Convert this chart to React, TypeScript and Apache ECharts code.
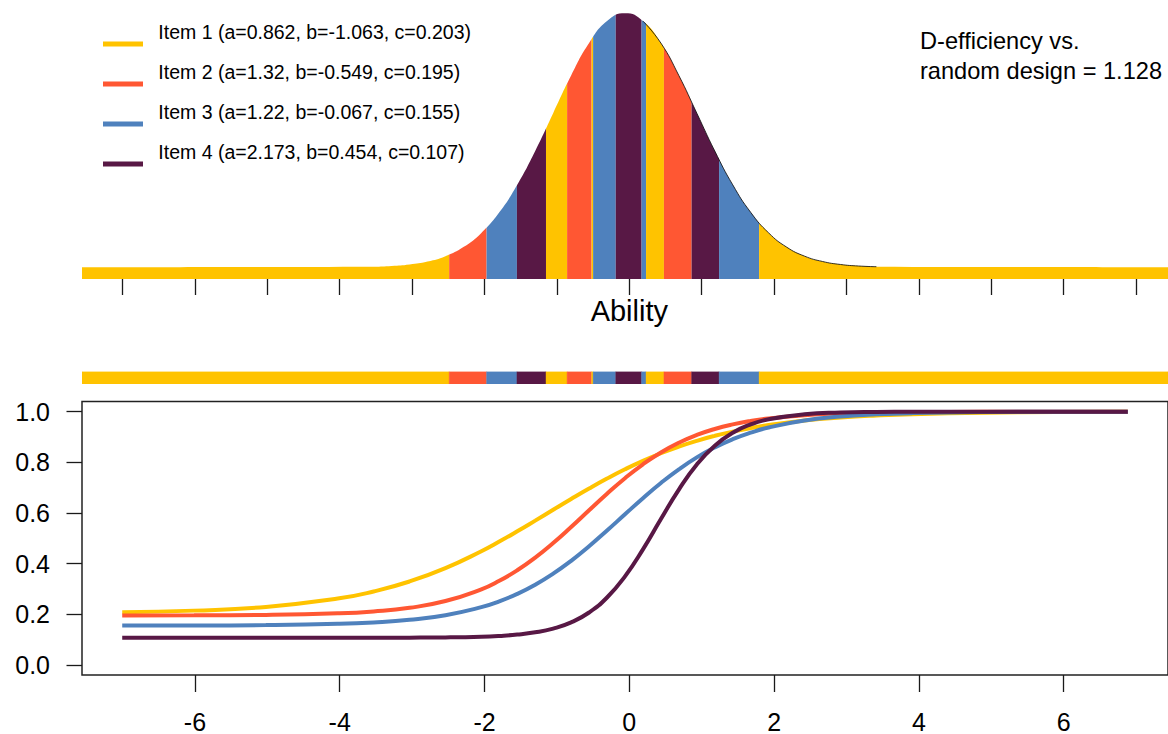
import React, { useEffect, useRef } from "react";
import * as echarts from "echarts";

// ---------- data ----------
const ITEM_NAMES = ["Item 1", "Item 2", "Item 3", "Item 4"];
const ITEM_A = ["0.862", "1.32", "1.22", "2.173"];
const ITEM_B = ["-1.063", "-0.549", "-0.067", "0.454"];
const ITEM_C = ["0.203", "0.195", "0.155", "0.107"];
const ITEM_COLORS = ["#FFC300", "#FF5733", "#4F81BD", "#581845"];

const EFFICIENCY_TEXT = ["D-efficiency vs.", "random design = 1.128"];
const X_TITLE = "Ability";

// ability grid for the item characteristic curves
const THETA = [-7, -6, -5, -4, -3.5, -3, -2.5, -2, -1.75, -1.5, -1.25, -1, -0.75, -0.5, -0.25, 0, 0.25, 0.5, 0.75, 1, 1.25, 1.5, 1.75, 2, 2.5, 3, 3.5, 4, 5, 6, 7];
const ICC_1 = [0.2077, 0.2142, 0.2289, 0.2617, 0.2899, 0.3293, 0.3821, 0.4488, 0.4868, 0.5273, 0.5695, 0.6123, 0.655, 0.6964, 0.7357, 0.7723, 0.8057, 0.8356, 0.8619, 0.8848, 0.9044, 0.9212, 0.9352, 0.9469, 0.9647, 0.9767, 0.9847, 0.99, 0.9957, 0.9982, 0.9992];
const ICC_2 = [0.1952, 0.1956, 0.1973, 0.2034, 0.2111, 0.2255, 0.252, 0.2984, 0.3319, 0.3735, 0.4235, 0.4811, 0.5444, 0.6105, 0.6759, 0.7372, 0.7921, 0.8388, 0.8772, 0.9078, 0.9315, 0.9495, 0.9631, 0.9731, 0.9859, 0.9926, 0.9962, 0.998, 0.9995, 0.9999, 1.0];
const ICC_3 = [0.1552, 0.1556, 0.1571, 0.1619, 0.1676, 0.178, 0.1963, 0.228, 0.2511, 0.2803, 0.3165, 0.3601, 0.411, 0.4684, 0.5306, 0.5947, 0.6582, 0.7181, 0.7722, 0.8193, 0.8588, 0.8912, 0.9169, 0.9372, 0.9647, 0.9804, 0.9892, 0.9941, 0.9983, 0.9995, 0.9998];
const ICC_4 = [0.107, 0.107, 0.107, 0.1071, 0.1072, 0.1075, 0.1085, 0.1113, 0.1144, 0.1196, 0.1285, 0.1434, 0.1678, 0.2068, 0.266, 0.3495, 0.4561, 0.5758, 0.6924, 0.7911, 0.8655, 0.9166, 0.9496, 0.97, 0.9897, 0.9965, 0.9988, 0.9996, 1.0, 1.0, 1.0];
const ICC = [ICC_1, ICC_2, ICC_3, ICC_4];

// ability density (top panel)
const DENS_THETA = [-7.56, -3.5, -3.25, -3, -2.75, -2.5, -2.25, -2, -1.75, -1.5, -1.25, -1, -0.75, -0.5, -0.25, 0, 0.25, 0.5, 0.75, 1, 1.25, 1.5, 1.75, 2, 2.25, 2.5, 2.75, 3, 3.25, 3.5, 7.56];
const DENS = [0, 0.0009, 0.002, 0.0044, 0.0091, 0.0175, 0.0317, 0.054, 0.0863, 0.1295, 0.1826, 0.242, 0.3011, 0.3521, 0.3867, 0.3989, 0.3867, 0.3521, 0.3011, 0.242, 0.1826, 0.1295, 0.0863, 0.054, 0.0317, 0.0175, 0.0091, 0.0044, 0.002, 0.0009, 0];

// which item is assigned along the ability axis (segment start, item index)
const BAND_START = [-7.56, -2.448, -1.927, -1.505, -1.1, -0.806, -0.465, -0.444, -0.129, 0.231, 0.293, 0.542, 0.927, 1.31, 1.867];
const BAND_ITEM = [0, 1, 2, 3, 0, 1, 0, 2, 3, 2, 0, 1, 3, 2, 0];

const X_TICKS_TOP = { min: -7, max: 7, step: 1 };
const X_TICKS_BOTTOM = { min: -6, max: 6, step: 2 };
const Y_TICKS = { min: 0, max: 1, step: 0.2 };

// ---------- layout ----------
const FONT = "'Liberation Sans', Arial, sans-serif";
const X_MIN = -7.56;
const X_MAX = 7.56;
const X_ZERO = 629.3;
const GL = 82;
const UNIT = (X_ZERO - GL) / -X_MIN;
const GW = (X_MAX - X_MIN) * UNIT;
const DENS_MIN = -0.0184;
const DENS_MAX = 0.4;
const BAND_CAP = 0.3995;

function buildOption() {
  // each band: [start, end, item, upper bound of the density inside the band]
  const bandData = BAND_START.map((s, i) => {
    const e = i === BAND_START.length - 1 ? X_MAX : BAND_START[i + 1];
    let top = 0;
    DENS_THETA.forEach((t, j) => {
      if (t >= s - 0.26 && t <= e + 0.26) top = Math.max(top, DENS[j]);
    });
    return [s, e, BAND_ITEM[i], Math.min(top + 0.004, BAND_CAP)];
  });

  const bandRenderer = (yLo: number, yHi: number | null, strokeW: number) => (params: any, api: any) => {
    const s = api.value(0);
    const e = api.value(1);
    const k = api.value(2);
    const top = yHi === null ? api.value(3) : yHi;
    const p0 = api.coord([s, top]);
    const p1 = api.coord([e, yLo]);
    const color = ITEM_COLORS[k];
    return {
      type: "rect",
      shape: { x: p0[0], y: p0[1], width: p1[0] - p0[0], height: p1[1] - p0[1] },
      style: strokeW > 0 ? { fill: color, stroke: color, lineWidth: strokeW } : { fill: color },
    };
  };

  const densData = DENS_THETA.map((t, i) => [t, DENS[i]]);
  const outlineData = densData.filter((d) => d[0] >= 0.25 && d[0] <= 3.5);

  const tickStyle = { color: "#1a1a1a", width: 1.3 };

  const grids = [
    { left: GL, width: GW, top: 12.6, height: 266.4 },
    { left: X_ZERO + X_TICKS_TOP.min * UNIT, width: (X_TICKS_TOP.max - X_TICKS_TOP.min) * UNIT, top: 270, height: 9 },
    { left: GL, width: GW, top: 371.5, height: 12.5 },
    { left: GL, width: GW, top: 401.5, height: 273.5, show: true, borderColor: "#222", borderWidth: 1.5, backgroundColor: "transparent" },
    { left: X_ZERO + X_TICKS_BOTTOM.min * UNIT, width: (X_TICKS_BOTTOM.max - X_TICKS_BOTTOM.min) * UNIT, top: 660, height: 15 },
    { left: GL, width: 10, top: 411.6, height: 253.3 },
  ];

  const hiddenX = (gridIndex: number, min = X_MIN, max = X_MAX) => ({ type: "value", gridIndex, min, max, show: false, splitLine: { show: false } });
  const hiddenY = (gridIndex: number, min = 0, max = 1) => ({ type: "value", gridIndex, min, max, show: false, splitLine: { show: false } });

  const xAxis = [
    hiddenX(0),
    {
      type: "value", gridIndex: 1, min: X_TICKS_TOP.min, max: X_TICKS_TOP.max, interval: X_TICKS_TOP.step,
      axisLine: { show: false }, axisTick: { show: true, length: 16, lineStyle: tickStyle },
      axisLabel: { show: false }, splitLine: { show: false },
    },
    hiddenX(2),
    hiddenX(3),
    {
      type: "value", gridIndex: 4, min: X_TICKS_BOTTOM.min, max: X_TICKS_BOTTOM.max, interval: X_TICKS_BOTTOM.step,
      axisLine: { show: false }, axisTick: { show: true, length: 17, lineStyle: tickStyle },
      axisLabel: { show: true, fontSize: 25, fontFamily: FONT, color: "#000", margin: 34 },
      splitLine: { show: false },
    },
    hiddenX(5, 0, 1),
  ];

  const yAxis = [
    hiddenY(0, DENS_MIN, DENS_MAX),
    hiddenY(1),
    hiddenY(2),
    hiddenY(3, -0.04, 1.04),
    hiddenY(4),
    {
      type: "value", gridIndex: 5, min: Y_TICKS.min, max: Y_TICKS.max, interval: Y_TICKS.step, position: "left",
      axisLine: { show: false }, axisTick: { show: true, length: 15.5, lineStyle: tickStyle },
      axisLabel: { show: true, fontSize: 25, fontFamily: FONT, color: "#000", margin: 32, formatter: (v: number) => v.toFixed(1) },
      splitLine: { show: false },
    },
  ];

  const series: any[] = [
    {
      type: "custom", xAxisIndex: 0, yAxisIndex: 0, data: bandData, z: 1,
      encode: { x: [0, 1], y: 3 }, renderItem: bandRenderer(DENS_MIN, null, 0), silent: true, clip: true,
    },
    {
      // white mask above the density curve
      type: "line", xAxisIndex: 0, yAxisIndex: 0, data: densData, smooth: true, z: 2,
      showSymbol: false, symbol: "none", lineStyle: { width: 0, opacity: 0 },
      areaStyle: { color: "#fff", opacity: 1, origin: "end" }, silent: true,
    },
    {
      type: "line", xAxisIndex: 0, yAxisIndex: 0, data: outlineData, smooth: true, z: 3,
      showSymbol: false, symbol: "none", lineStyle: { width: 1, color: "#111", opacity: 0.85 }, silent: true,
    },
    {
      type: "custom", xAxisIndex: 2, yAxisIndex: 2, data: bandData, z: 1,
      encode: { x: [0, 1], y: 3 }, renderItem: bandRenderer(0, 1, 0.4), silent: true, clip: true,
    },
  ];
  ICC.forEach((vals, k) => {
    series.push({
      type: "line", name: ITEM_NAMES[k], xAxisIndex: 3, yAxisIndex: 3,
      data: THETA.map((t, i) => [t, vals[i]]), smooth: 0.5, z: 3 + k,
      showSymbol: false, symbol: "none", lineStyle: { width: 4, color: ITEM_COLORS[k] },
      itemStyle: { color: ITEM_COLORS[k] }, silent: true,
    });
  });

  const graphic: any[] = [];
  ITEM_NAMES.forEach((name, k) => {
    const ly = 44 + k * 40;
    graphic.push({
      type: "line", z: 100, shape: { x1: 103, y1: ly, x2: 143, y2: ly },
      style: { stroke: ITEM_COLORS[k], lineWidth: 5 }, silent: true,
    });
    graphic.push({
      type: "text", z: 100, x: 158.3, y: ly - 11.8,
      style: {
        text: `${name} (a=${ITEM_A[k]}, b=${ITEM_B[k]}, c=${ITEM_C[k]})`,
        fontSize: 19.5, fontFamily: FONT, fill: "#000", verticalAlign: "middle", align: "left",
      },
    });
  });
  EFFICIENCY_TEXT.forEach((t, i) => {
    graphic.push({
      type: "text", z: 100, x: 920, y: 41 + i * 30,
      style: { text: t, fontSize: 23.6, fontFamily: FONT, fill: "#000", verticalAlign: "middle", align: "left" },
    });
  });
  graphic.push({
    type: "text", z: 100, x: X_ZERO, y: 311,
    style: { text: X_TITLE, fontSize: 29, fontFamily: FONT, fill: "#000", verticalAlign: "middle", align: "center" },
  });

  return {
    animation: false,
    backgroundColor: "#fff",
    grid: grids,
    xAxis,
    yAxis,
    series,
    graphic,
  };
}

export default function App() {
  const ref = useRef<HTMLDivElement>(null);
  useEffect(() => {
    document.body.style.margin = "0";
    const chart = echarts.init(ref.current!, null, { renderer: "svg" });
    chart.setOption(buildOption() as any);
    return () => chart.dispose();
  }, []);
  return (
    <div
      ref={ref}
      style={{ position: "fixed", left: 0, top: 0, width: 1168, height: 734, background: "#fff" }}
    />
  );
}
